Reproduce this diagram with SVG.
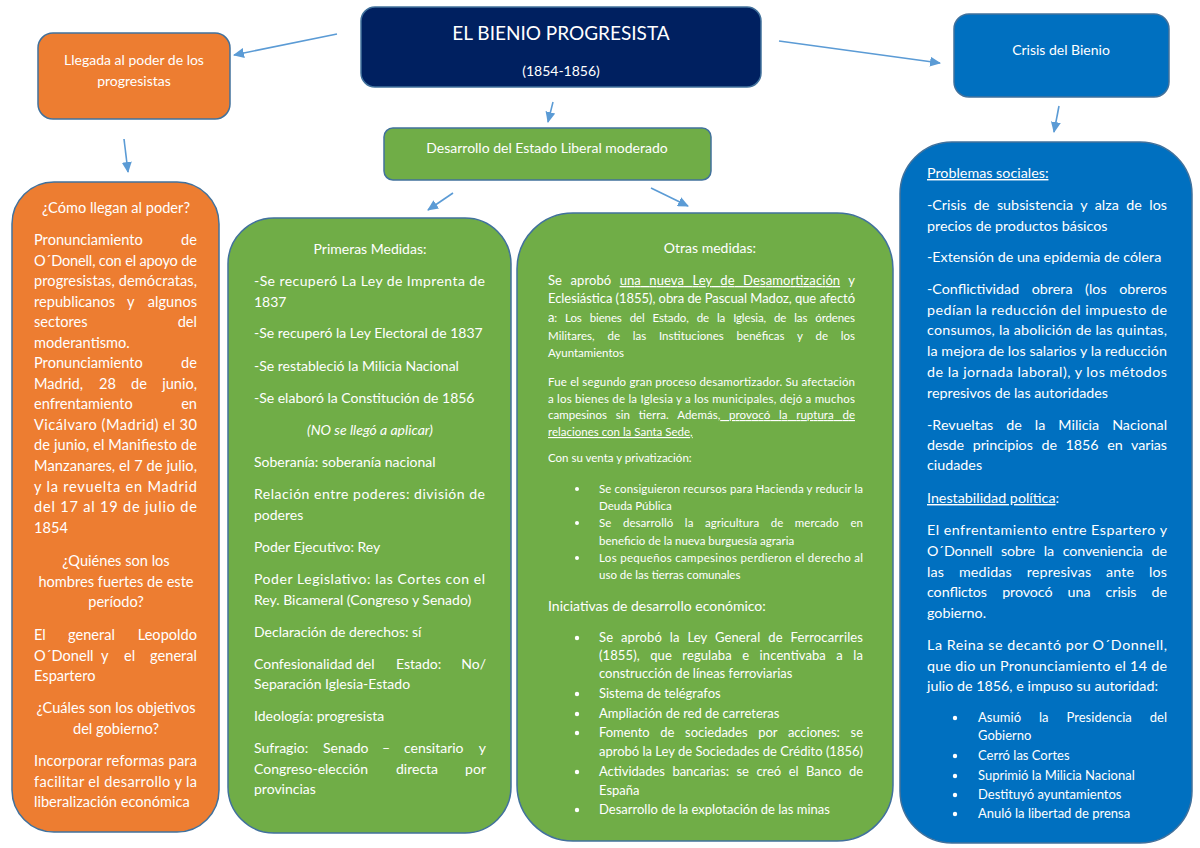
<svg xmlns="http://www.w3.org/2000/svg" width="1200" height="848" viewBox="0 0 1200 848">
<style>
.t{font-family:Lato,"Open Sans","Liberation Sans",sans-serif;fill:#fff;font-size:14px}
.L{font-size:14.6px}
.R{font-size:14.3px}
.c{text-anchor:middle}
.e{text-anchor:end}
.s{font-size:11.5px}
.m{font-size:13px}
.u{text-decoration:underline}
.box{stroke:#41719C;stroke-width:1.5}
.conn{stroke:#5B9BD5;stroke-width:1.6;fill:none;marker-end:url(#ah)}
</style>
<defs>
<marker id="ah" markerUnits="userSpaceOnUse" markerWidth="12" markerHeight="10" refX="10" refY="5" orient="auto">
<path d="M0,0 L11,5 L0,10 z" fill="#5B9BD5"/>
</marker>
</defs>
<rect width="1200" height="848" fill="#fff"/>
<g id="connectors">
<line class="conn" x1="337" y1="34" x2="234" y2="55"/>
<line class="conn" x1="124" y1="139" x2="128" y2="172"/>
<line class="conn" x1="553" y1="102" x2="548" y2="122"/>
<line class="conn" x1="453" y1="193" x2="428" y2="210"/>
<line class="conn" x1="651" y1="188" x2="688" y2="206"/>
<line class="conn" x1="779" y1="41" x2="940" y2="63"/>
<line class="conn" x1="1059" y1="106" x2="1054" y2="132"/>
</g>
<g id="title">
<rect class="box" x="361" y="7" width="400" height="80" rx="14" fill="#002060"/>
<text class="t c" x="561" y="40" style="font-size:19px">EL BIENIO PROGRESISTA</text>
<text class="t c" x="561" y="76">(1854-1856)</text>
</g>
<g id="llegada">
<rect class="box" x="38" y="33" width="192" height="86" rx="15" fill="#ED7D31"/>
<text class="t c" x="134" y="65">Llegada al poder de los</text>
<text class="t c" x="134" y="86">progresistas</text>
</g>
<g id="desarrollo">
<rect class="box" x="384" y="128" width="327" height="52" rx="9" fill="#70AD47"/>
<text class="t c" x="547" y="153">Desarrollo del Estado Liberal moderado</text>
</g>
<g id="crisis">
<rect class="box" x="954" y="14" width="215" height="83" rx="15" fill="#0070C0"/>
<text class="t c" x="1061" y="55">Crisis del Bienio</text>
</g>
<g id="como">
<rect class="box" x="12" y="182" width="207" height="650" rx="42" fill="#ED7D31"/>
<text class="t L c" x="116" y="213">¿Cómo llegan al poder?</text>
<text class="t L" x="34" y="245">Pronunciamiento</text><text class="t L e" x="197" y="245">de</text>
<text class="t L" x="34" y="266" textLength="163" lengthAdjust="spacing">O´Donell, con el apoyo de</text>
<text class="t L" x="34" y="286" textLength="163" lengthAdjust="spacing">progresistas, demócratas,</text>
<text class="t L" x="34" y="307"><tspan x="34">republicanos</tspan><tspan x="127">y</tspan></text><text class="t L e" x="197" y="307">algunos</text>
<text class="t L" x="34" y="327">sectores</text><text class="t L e" x="197" y="327">del</text>
<text class="t L" x="34" y="348">moderantismo.</text>
<text class="t L" x="34" y="368">Pronunciamiento</text><text class="t L e" x="197" y="368">de</text>
<text class="t L" x="34" y="389"><tspan x="34">Madrid,</tspan><tspan x="99">28</tspan><tspan x="131">de</tspan></text><text class="t L e" x="197" y="389">junio,</text>
<text class="t L" x="34" y="409">enfrentamiento</text><text class="t L e" x="197" y="409">en</text>
<text class="t L" x="34" y="430" textLength="163" lengthAdjust="spacing">Vicálvaro (Madrid) el 30</text>
<text class="t L" x="34" y="450" textLength="163" lengthAdjust="spacing">de junio, el Manifiesto de</text>
<text class="t L" x="34" y="471" textLength="163" lengthAdjust="spacing">Manzanares, el 7 de julio,</text>
<text class="t L" x="34" y="492" textLength="163" lengthAdjust="spacing">y la revuelta en Madrid</text>
<text class="t L" x="34" y="512" textLength="163" lengthAdjust="spacing">del 17 al 19 de julio de</text>
<text class="t L" x="34" y="533">1854</text>
<text class="t L c" x="116" y="566">¿Quiénes son los</text>
<text class="t L c" x="116" y="587">hombres fuertes de este</text>
<text class="t L c" x="116" y="607">período?</text>
<text class="t L" x="34" y="640"><tspan x="34">El</tspan><tspan x="68">general</tspan></text><text class="t L e" x="197" y="640">Leopoldo</text>
<text class="t L" x="34" y="661"><tspan x="34">O´Donell</tspan><tspan x="101">y</tspan><tspan x="124">el</tspan></text><text class="t L e" x="197" y="661">general</text>
<text class="t L" x="34" y="681">Espartero</text>
<text class="t L c" x="116" y="713">¿Cuáles son los objetivos</text>
<text class="t L c" x="116" y="734">del gobierno?</text>
<text class="t L" x="34" y="766" textLength="163" lengthAdjust="spacing">Incorporar reformas para</text>
<text class="t L" x="34" y="787" textLength="163" lengthAdjust="spacing">facilitar el desarrollo y la</text>
<text class="t L" x="34" y="807">liberalización económica</text>
</g>
<g id="primeras">
<rect class="box" x="228" y="218" width="283" height="615" rx="46" fill="#70AD47"/>
<text class="t c" x="370" y="254">Primeras Medidas:</text>
<text class="t" x="254" y="286" textLength="231" lengthAdjust="spacing">-Se recuperó La Ley de Imprenta de</text>
<text class="t" x="254" y="307">1837</text>
<text class="t" x="254" y="338">-Se recuperó la Ley Electoral de 1837</text>
<text class="t" x="254" y="371">-Se restableció la Milicia Nacional</text>
<text class="t" x="254" y="403">-Se elaboró la Constitución de 1856</text>
<text class="t c" x="370" y="435" font-style="italic">(NO se llegó a aplicar)</text>
<text class="t" x="254" y="467">Soberanía: soberanía nacional</text>
<text class="t" x="254" y="499" textLength="231" lengthAdjust="spacing">Relación entre poderes: división de</text>
<text class="t" x="254" y="520">poderes</text>
<text class="t" x="254" y="552">Poder Ejecutivo: Rey</text>
<text class="t" x="254" y="584" textLength="231" lengthAdjust="spacing">Poder Legislativo: las Cortes con el</text>
<text class="t" x="254" y="605">Rey. Bicameral (Congreso y Senado)</text>
<text class="t" x="254" y="637">Declaración de derechos: sí</text>
<text class="t" x="254" y="669"><tspan x="254">Confesionalidad</tspan><tspan x="356">del</tspan><tspan x="396">Estado:</tspan></text><text class="t e" x="486" y="669">No/</text>
<text class="t" x="254" y="689">Separación Iglesia-Estado</text>
<text class="t" x="254" y="721">Ideología: progresista</text>
<text class="t" x="254" y="753"><tspan x="254">Sufragio:</tspan><tspan x="323">Senado</tspan><tspan x="382">–</tspan><tspan x="404">censitario</tspan></text><text class="t e" x="486" y="753">y</text>
<text class="t" x="254" y="774"><tspan x="254">Congreso-elección</tspan><tspan x="396">directa</tspan></text><text class="t e" x="486" y="774">por</text>
<text class="t" x="254" y="794">provincias</text>
</g>
<g id="otras">
<rect class="box" x="517" y="213" width="376" height="628" rx="56" fill="#70AD47"/>
<text class="t c" x="710" y="253">Otras medidas:</text>
<text class="t m" x="548" y="285" style="word-spacing:5px" textLength="307" lengthAdjust="spacing">Se aprobó <tspan class="u">una nueva Ley de Desamortización</tspan> y</text>
<text class="t m" x="548" y="303" textLength="307" lengthAdjust="spacing">Eclesiástica (1855), obra de Pascual Madoz, que afectó</text>
<text class="t s" x="548" y="322" style="word-spacing:5.2px" textLength="307" lengthAdjust="spacing"><tspan class="m">a</tspan>: Los bienes del Estado, de la Iglesia, de las órdenes</text>
<text class="t s" x="548" y="340" style="word-spacing:9.7px" textLength="307" lengthAdjust="spacing">Militares, de las Instituciones benéficas y de los</text>
<text class="t s" x="548" y="357">Ayuntamientos</text>
<text class="t s" x="548" y="386" textLength="307" lengthAdjust="spacing">Fue el segundo gran proceso desamortizador. Su afectación</text>
<text class="t s" x="548" y="403" textLength="307" lengthAdjust="spacing">a los bienes de la Iglesia y a los municipales, dejó a muchos</text>
<text class="t s" x="548" y="419" style="word-spacing:5.8px" textLength="307" lengthAdjust="spacing">campesinos sin tierra. Además<tspan class="u">, provocó la ruptura de</tspan></text>
<text class="t s u" x="548" y="436">relaciones con la Santa Sede,</text>
<text class="t s" x="548" y="462">Con su venta y privatización:</text>
<g fill="#fff">
<circle cx="577" cy="489" r="2"/><circle cx="577" cy="523" r="2"/><circle cx="577" cy="558" r="2"/>
<circle cx="577" cy="638" r="2.2"/><circle cx="577" cy="694" r="2.2"/><circle cx="577" cy="714" r="2.2"/>
<circle cx="577" cy="733" r="2.2"/><circle cx="577" cy="772" r="2.2"/><circle cx="577" cy="810" r="2.2"/>
</g>
<text class="t s" x="599" y="493" textLength="264" lengthAdjust="spacing">Se consiguieron recursos para Hacienda y reducir la</text>
<text class="t s" x="599" y="510">Deuda Pública</text>
<text class="t s" x="599" y="527" style="word-spacing:8.5px" textLength="264" lengthAdjust="spacing">Se desarrolló la agricultura de mercado en</text>
<text class="t s" x="599" y="545">beneficio de la nueva burguesía agraria</text>
<text class="t s" x="599" y="562" textLength="264" lengthAdjust="spacing">Los pequeños campesinos perdieron el derecho al</text>
<text class="t s" x="599" y="579">uso de las tierras comunales</text>
<text class="t" x="548" y="611">Iniciativas de desarrollo económico:</text>
<text class="t m" x="599" y="642" style="word-spacing:4.4px" textLength="264" lengthAdjust="spacing">Se aprobó la Ley General de Ferrocarriles</text>
<text class="t m" x="599" y="660" style="word-spacing:7px" textLength="264" lengthAdjust="spacing">(1855), que regulaba e incentivaba a la</text>
<text class="t m" x="599" y="678">construcción de líneas ferroviarias</text>
<text class="t m" x="599" y="698">Sistema de telégrafos</text>
<text class="t m" x="599" y="718">Ampliación de red de carreteras</text>
<text class="t m" x="599" y="737" style="word-spacing:7.4px" textLength="264" lengthAdjust="spacing">Fomento de sociedades por acciones: se</text>
<text class="t m" x="599" y="756" textLength="264" lengthAdjust="spacing">aprobó la Ley de Sociedades de Crédito (1856)</text>
<text class="t m" x="599" y="776" style="word-spacing:4.2px" textLength="264" lengthAdjust="spacing">Actividades bancarias: se creó el Banco de</text>
<text class="t m" x="599" y="795">España</text>
<text class="t m" x="599" y="814">Desarrollo de la explotación de las minas</text>
</g>
<g id="problemas">
<rect class="box" x="900" y="142" width="292" height="701" rx="52" fill="#0070C0"/>
<text class="t R u" x="927" y="178">Problemas sociales:</text>
<text class="t R" x="927" y="210" style="word-spacing:3.8px" textLength="240" lengthAdjust="spacing">-Crisis de subsistencia y alza de los</text>
<text class="t R" x="927" y="231">precios de productos básicos</text>
<text class="t R" x="927" y="262">-Extensión de una epidemia de cólera</text>
<text class="t R" x="927" y="294" style="word-spacing:8.9px" textLength="240" lengthAdjust="spacing">-Conflictividad obrera (los obreros</text>
<text class="t R" x="927" y="315" textLength="240" lengthAdjust="spacing">pedían la reducción del impuesto de</text>
<text class="t R" x="927" y="335" textLength="240" lengthAdjust="spacing">consumos, la abolición de las quintas,</text>
<text class="t R" x="927" y="356" textLength="240" lengthAdjust="spacing">la mejora de los salarios y la reducción</text>
<text class="t R" x="927" y="377" textLength="240" lengthAdjust="spacing">de la jornada laboral), y los métodos</text>
<text class="t R" x="927" y="398">represivos de las autoridades</text>
<text class="t R" x="927" y="430" style="word-spacing:9.2px" textLength="240" lengthAdjust="spacing">-Revueltas de la Milicia Nacional</text>
<text class="t R" x="927" y="450" style="word-spacing:5.1px" textLength="240" lengthAdjust="spacing">desde principios de 1856 en varias</text>
<text class="t R" x="927" y="470">ciudades</text>
<text class="t R" x="927" y="503"><tspan class="u">Inestabilidad política</tspan>:</text>
<text class="t R" x="927" y="535" textLength="240" lengthAdjust="spacing">El enfrentamiento entre Espartero y</text>
<text class="t R" x="927" y="556" style="word-spacing:5.2px" textLength="240" lengthAdjust="spacing">O´Donnell sobre la conveniencia de</text>
<text class="t R" x="927" y="577" style="word-spacing:11px" textLength="240" lengthAdjust="spacing">las medidas represivas ante los</text>
<text class="t R" x="927" y="597" style="word-spacing:11.6px" textLength="240" lengthAdjust="spacing">conflictos provocó una crisis de</text>
<text class="t R" x="927" y="618">gobierno.</text>
<text class="t R" x="927" y="650" textLength="240" lengthAdjust="spacing">La Reina se decantó por O´Donnell,</text>
<text class="t R" x="927" y="671" textLength="240" lengthAdjust="spacing">que dio un Pronunciamiento el 14 de</text>
<text class="t R" x="927" y="691">julio de 1856, e impuso su autoridad:</text>
<g fill="#fff">
<circle cx="955" cy="718" r="2.2"/><circle cx="955" cy="756" r="2.2"/><circle cx="955" cy="776" r="2.2"/>
<circle cx="955" cy="795" r="2.2"/><circle cx="955" cy="814" r="2.2"/>
</g>
<text class="t m" x="978" y="722" style="word-spacing:14.6px" textLength="189" lengthAdjust="spacing">Asumió la Presidencia del</text>
<text class="t m" x="978" y="740">Gobierno</text>
<text class="t m" x="978" y="760">Cerró las Cortes</text>
<text class="t m" x="978" y="780">Suprimió la Milicia Nacional</text>
<text class="t m" x="978" y="799">Destituyó ayuntamientos</text>
<text class="t m" x="978" y="818">Anuló la libertad de prensa</text>
</g>
</svg>
